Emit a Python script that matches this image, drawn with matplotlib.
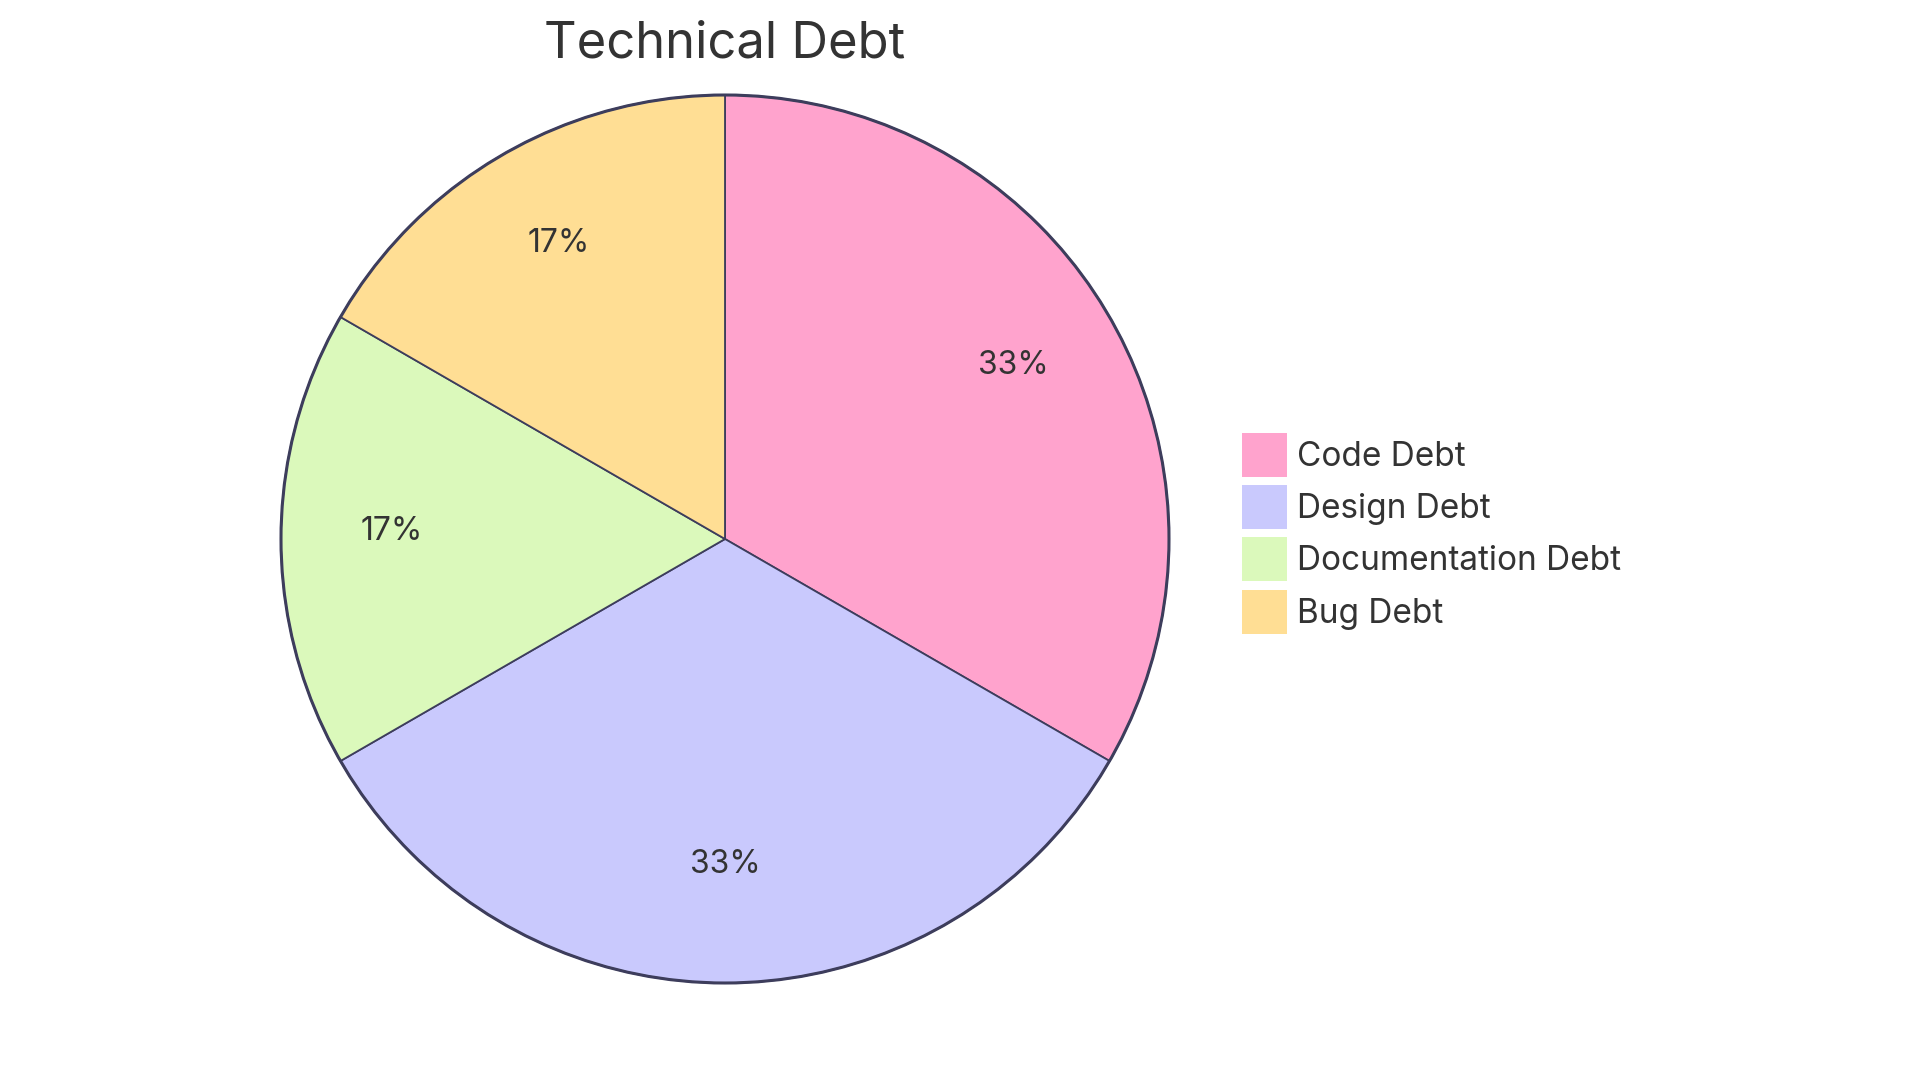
import matplotlib.pyplot as plt

plt.rcParams["font.family"] = ["Inter", "DejaVu Sans"]

TITLE = "Technical Debt"
labels = ["Code Debt", "Design Debt", "Documentation Debt", "Bug Debt"]
values = [2, 2, 1, 1]
colors = ["#FFA3CD", "#C9C9FD", "#DBF9BB", "#FFDE94"]

W, H = 1920, 1080
fig = plt.figure(figsize=(W / 100, H / 100), dpi=100)
ax = fig.add_axes([0, 0, 1, 1])

cx, cy, r = 725, H - 539, 444
wedges, texts, autotexts = ax.pie(
    values,
    colors=colors,
    startangle=90,
    counterclock=False,
    center=(cx, cy),
    radius=r,
    autopct=lambda p: f"{p:.0f}%",
    pctdistance=0.75,
    wedgeprops=dict(edgecolor="#3d3d5c", linewidth=1.3),
    textprops=dict(fontsize=23, color="#333333"),
    frame=True,
)
ax.set_xlim(0, W)
ax.set_ylim(0, H)
ax.set_aspect("equal")
ax.axis("off")

# labels sit slightly higher than the wedge centroid line
for t in autotexts:
    x, y = t.get_position()
    t.set_position((x, y + 7))

# outer ring a bit heavier
ring = plt.Circle((cx, cy), r, fill=False, edgecolor="#3d3d5c", linewidth=2.2)
ax.add_patch(ring)

fig.text(725 / W, 1 - 44 / H, TITLE, ha="center", va="center",
         fontsize=36.5, color="#333333")

leg = ax.legend(
    wedges, labels,
    loc="upper left",
    bbox_to_anchor=(1242 / W, 1 - 433 / H),
    bbox_transform=fig.transFigure,
    frameon=False,
    fontsize=24,
    handlelength=1.35,
    handleheight=1.65,
    handletextpad=0.3,
    labelspacing=0.25,
    borderpad=0,
    borderaxespad=0,
)
for h in leg.legend_handles:
    h.set_edgecolor("none")
for t in leg.get_texts():
    t.set_color("#333333")

fig.savefig("out.png", dpi=100, facecolor="white")
